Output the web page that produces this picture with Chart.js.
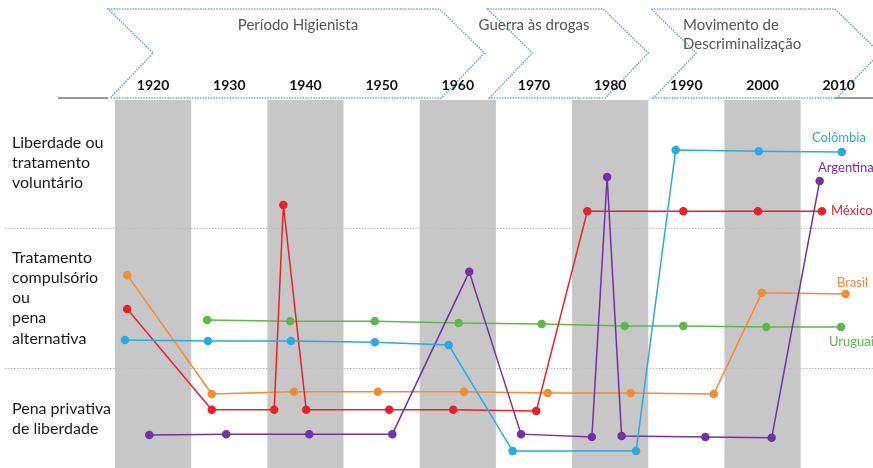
<!DOCTYPE html>
<html>
<head>
<meta charset="utf-8">
<script src="https://cdn.jsdelivr.net/npm/chart.js@4"></script>
<style>
 body{margin:0;background:#fff;}
 canvas{display:block;}
</style>
</head>
<body>
<canvas id="linhaTempo" width="873" height="468"></canvas>
<script>
// decadas e periodos
const decadas=[1920,1930,1940,1950,1960,1970,1980,1990,2000,2010];
const faixasCinza=[1920,1940,1960,1980,2000];
const periodos=['Período Higienista','Guerra às drogas','Movimento de|Descriminalização'];
const limitesPeriodos=[1914.1,1963.5,1985.0,2015.4];
const categorias=[['Liberdade ou','tratamento','voluntário'],['Tratamento','compulsório','ou','pena','alternativa'],['Pena privativa','de liberdade']];
const separadores=[27.2,65.2];

// paises
const paises=['Colômbia','Argentina','México','Brasil','Uruguai'];

const colombiaAnos=[1916.3,1927.2,1938.1,1949.1,1958.8,1967.2,1983.4,1988.6,1999.5,2010.4];
const colombiaNivel=[34.8,34.5,34.5,34.2,33.4,4.6,4.6,86.4,86.1,85.9];

const mexicoAnos=[1916.6,1927.7,1935.9,1937.1,1940.1,1951.0,1959.4,1970.3,1977.0,1989.6,1999.4,2007.8];
const mexicoNivel=[43.2,15.8,15.8,71.5,15.8,15.8,15.8,15.5,69.8,69.8,69.8,69.8];

const brasilAnos=[1916.6,1927.7,1938.5,1949.5,1960.8,1971.8,1982.7,1993.6,1999.9,2010.9];
const brasilNivel=[52.4,20.1,20.7,20.7,20.7,20.4,20.4,20.1,47.6,47.3];

const uruguaiAnos=[1927.1,1938.0,1949.1,1960.1,1971.0,1981.9,1989.6,2000.5,2010.3];
const uruguaiNivel=[40.2,39.9,39.9,39.4,39.1,38.6,38.6,38.3,38.3];

const argentinaAnos=[1919.5,1929.6,1940.5,1951.4,1961.5,1968.3,1977.6,1979.6,1981.5,1992.5,2001.2,2007.5];
const argentinaNivel=[9.0,9.2,9.2,9.2,53.3,9.2,8.4,79.1,8.7,8.4,8.2,78.0];

function pts(a,b){return a.map((x,i)=>({x:x,y:b[i]}));}

const fonte='Lato, "Open Sans", sans-serif';

const fundo={
 id:'fundo',
 beforeDatasetsDraw(chart){
  const c=chart.ctx,a=chart.chartArea,x=chart.scales.x,y=chart.scales.y;
  c.save();
  c.fillStyle='#c7c7c7';
  faixasCinza.forEach(d=>{
   const l=x.getPixelForValue(d-5),r=x.getPixelForValue(d+5);
   c.fillRect(l,a.top,r-l,a.bottom-a.top);
  });
  // linhas pontilhadas
  c.strokeStyle='#bdbdbd';c.lineWidth=1;c.setLineDash([1.5,1.5]);
  separadores.forEach(v=>{
   const py=Math.round(y.getPixelForValue(v))+0.5;
   c.beginPath();c.moveTo(5,py);c.lineTo(a.right,py);c.stroke();
  });
  c.restore();
 },
 afterDraw(chart){
  const c=chart.ctx,a=chart.chartArea,x=chart.scales.x;
  c.save();
  // cabecalho
  const topo=9,base=98,meio=53,bico=45;
  c.strokeStyle='#333';c.lineWidth=1.2;
  c.beginPath();c.moveTo(58,base);c.lineTo(x.getPixelForValue(limitesPeriodos[0]),base);c.stroke();
  c.beginPath();c.moveTo(x.getPixelForValue(limitesPeriodos[3])-bico,base);c.lineTo(873,base);c.stroke();
  c.strokeStyle='#7fa6c8';c.lineWidth=1.6;c.setLineDash([1.5,1.2]);
  for(let i=0;i<periodos.length;i++){
   const l=x.getPixelForValue(limitesPeriodos[i])+(i?3:0);
   const r=x.getPixelForValue(limitesPeriodos[i+1]);
   c.beginPath();
   c.moveTo(l,topo);c.lineTo(r-bico,topo);c.lineTo(r,meio);c.lineTo(r-bico+2,base);
   c.lineTo(l+2,base);c.lineTo(l+bico,meio);c.closePath();c.stroke();
  }
  c.setLineDash([]);
  c.fillStyle='#555';c.font='15px '+fonte;c.textBaseline='middle';
  c.textAlign='center';
  c.fillText(periodos[0],298,25);
  c.fillText(periodos[1],534,25);
  c.textAlign='left';
  const p3=periodos[2].split('|');
  c.fillText(p3[0],683,25);c.fillText(p3[1],683,44);
  // decadas
  c.fillStyle='#111';c.font='bold 14px '+fonte;c.textAlign='center';
  decadas.forEach(d=>c.fillText(String(d),x.getPixelForValue(d),85));
  // categorias
  c.fillStyle='#1a1a1a';c.font='16px '+fonte;c.textAlign='left';
  const centros=[163,298,418.5];
  categorias.forEach((linhas,k)=>{
   const y0=centros[k]-(linhas.length-1)*20.2/2;
   linhas.forEach((t,j)=>c.fillText(t,12,y0+j*20.2));
  });
  // nomes dos paises
  c.font='13px '+fonte;c.textAlign='left';
  const posNome=[[812,138],[818,168],[831,211],[837,283],[829,342]];
  chart.data.datasets.forEach((ds,k)=>{
   c.fillStyle=ds.borderColor;
   c.fillText(ds.label,posNome[k][0],posNome[k][1]);
  });
  c.restore();
 }
};

function serie(nome,a,b,cor){
 return {label:nome,data:pts(a,b),borderColor:cor,backgroundColor:cor,
  borderWidth:1.5,pointRadius:3.5,pointHoverRadius:3.5,tension:0,clip:false};
}

new Chart(document.getElementById('linhaTempo'),{
 type:'line',
 data:{datasets:[
  serie(paises[0],colombiaAnos,colombiaNivel,'#29abe2'),
  serie(paises[1],argentinaAnos,argentinaNivel,'#7332a4'),
  serie(paises[2],mexicoAnos,mexicoNivel,'#ea2129'),
  serie(paises[3],brasilAnos,brasilNivel,'#f68b33'),
  serie(paises[4],uruguaiAnos,uruguaiNivel,'#5db74a')
 ]},
 options:{
  responsive:false,animation:false,
  layout:{autoPadding:false,padding:{left:115,top:100,right:0,bottom:0}},
  scales:{
   x:{type:'linear',min:1915,max:2014.5,display:false},
   y:{min:0,max:100,display:false}
  },
  plugins:{legend:{display:false},tooltip:{enabled:false}}
 },
 plugins:[fundo]
});
</script>
</body>
</html>
